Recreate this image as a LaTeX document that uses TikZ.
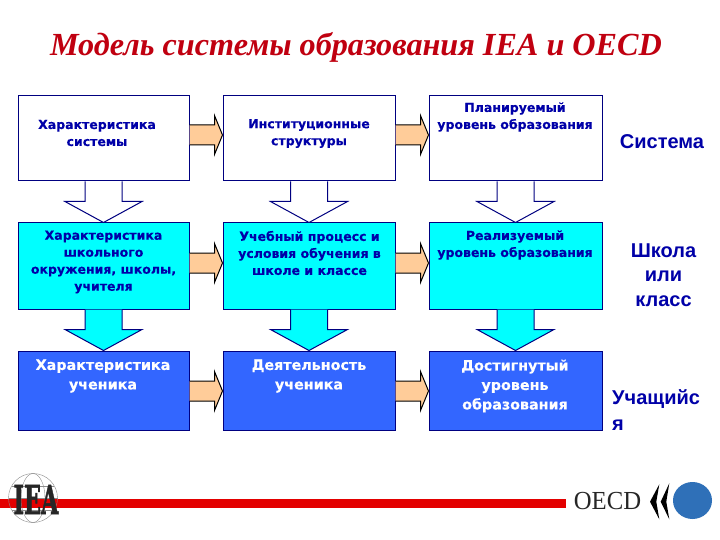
\documentclass[tikz,border=0pt]{standalone}
\usepackage{fontspec}
\setmainfont[FakeBold=0.25]{DejaVu Sans}
\newfontfamily\serifface{Liberation Serif}
\newfontfamily\armface{Liberation Sans}
\newfontfamily\heavyface[FakeBold=1.5]{DejaVu Serif}
\usetikzlibrary{calc}
\definecolor{navy}{HTML}{000080}
\definecolor{inktext}{HTML}{0000A8}
\definecolor{cyanbox}{HTML}{00FFFF}
\definecolor{bluebox}{HTML}{3366FF}
\definecolor{peach}{HTML}{FFCC99}
\definecolor{titlered}{HTML}{C00010}
\definecolor{barred}{HTML}{E30000}
\definecolor{oecdblue}{HTML}{2F70B8}
\tikzset{
  boxnode/.style={draw=navy,line width=1pt,inner sep=0pt,minimum width=#1},
  white box/.style={fill=white},
  cyan box/.style={fill=cyanbox},
  blue box/.style={fill=bluebox},
  small label/.style={align=center,inner sep=0pt,text=inktext,font=\bfseries\fontsize{12.5}{17}\selectfont},
  big label/.style={align=center,inner sep=0pt,text=white,font=\bfseries\fontsize{14.3}{19.5}\selectfont},
  side label/.style={align=center,inner sep=0pt,text=inktext,font=\armface\bfseries\fontsize{20}{24.5}\selectfont},
  blockarrow/.style={draw=black,line width=1pt,line join=miter,fill=#1},
  downarrow/.style={draw=navy,line width=1pt,line join=miter,fill=#1}
}
% right-pointing block arrow between two nodes, shifted by #3 from box centre
\newcommand{\hblock}[3]{%
  \filldraw[blockarrow=peach]
    ($(#1.east)+(0,#3-10)$) -- ($(#2.west)+(-8,#3-10)$) -- ($(#2.west)+(-8,#3-19.5)$)
    -- ($(#2.west)+(0,#3)$) -- ($(#2.west)+(-8,#3+19.5)$) -- ($(#2.west)+(-8,#3+10)$)
    -- ($(#1.east)+(0,#3+10)$);}
% downward block arrow between two nodes
\newcommand{\vblock}[3]{%
  \filldraw[downarrow=#3]
    ($(#1.south)+(-18.5,0)$) -- ($(#2.north)+(-18.5,-21)$) -- ($(#2.north)+(-38.5,-21)$)
    -- (#2.north) -- ($(#2.north)+(38.5,-21)$) -- ($(#2.north)+(18.5,-21)$)
    -- ($(#1.south)+(18.5,0)$);}
\begin{document}
\begin{tikzpicture}[x=1pt,y=-1pt]
\useasboundingbox (0,0) rectangle (720,540);
\fill[white] (0,0) rectangle (720,540);

\node[inner sep=0pt,text=titlered,font=\serifface\bfseries\itshape\fontsize{32.2}{36}\selectfont] (title) at (356,47) {Модель системы образования IEA и OECD};

% boxes
\node[boxnode=171pt,white box,minimum height=85pt] (a1) at (103.5,138.5) {};
\node[boxnode=172pt,white box,minimum height=85pt] (b1) at (309,138.5) {};
\node[boxnode=173pt,white box,minimum height=85pt] (c1) at (515.5,138.5) {};
\node[boxnode=171pt,cyan box,minimum height=86pt] (a2) at (103.5,266) {};
\node[boxnode=172pt,cyan box,minimum height=86pt] (b2) at (309,266) {};
\node[boxnode=173pt,cyan box,minimum height=86pt] (c2) at (515.5,266) {};
\node[boxnode=171pt,blue box,minimum height=79pt] (a3) at (103.5,390.5) {};
\node[boxnode=172pt,blue box,minimum height=79pt] (b3) at (309,390.5) {};
\node[boxnode=173pt,blue box,minimum height=79pt] (c3) at (515.5,390.5) {};

% right arrows
\hblock{a1}{b1}{-3.5}
\hblock{b1}{c1}{-3.5}
\hblock{a2}{b2}{-3}
\hblock{b2}{c2}{-3}
\hblock{a3}{b3}{0.5}
\hblock{b3}{c3}{0.5}

% down arrows
\vblock{a1}{a2}{white}
\vblock{b1}{b2}{white}
\vblock{c1}{c2}{white}
\vblock{a2}{a3}{cyanbox}
\vblock{b2}{b3}{cyanbox}
\vblock{c2}{c3}{cyanbox}

% box texts
\node[small label] (ta1) at (97,133) {Характеристика\\системы};
\node[small label] (tb1) at (309,133.5) {Институционные\\структуры};
\node[small label] (tc1) at (515,117) {Планируемый\\уровень образования};
\node[small label] (ta2) at (103.5,262) {Характеристика\\школьного\\окружения, школы,\\учителя};
\node[small label] (tb2) at (309.5,253) {Учебный процесс и\\условия обучения в\\школе и классе};
\node[small label] (tc2) at (515,245) {Реализуемый\\уровень образования};
\node[big label] (ta3) at (103,376) {Характеристика\\ученика};
\node[big label] (tb3) at (309,376) {Деятельность\\ученика};
\node[big label] (tc3) at (515,386) {Достигнутый\\уровень\\образования};

% side labels
\node[side label] (s1) at (662,142) {Система};
\node[side label] (s2) at (663.5,275) {Школа\\или\\класс};
\node[side label,align=left,anchor=west,font=\armface\bfseries\fontsize{20}{26}\selectfont] (s3) at (612,410) {Учащийс\\я};

% footer bar
\fill[barred] (0,498.5) rectangle (566,508);

% IEA logo
\begin{scope}[draw=black!45,line width=.4pt]
  \draw (33,498) circle[radius=24.5pt];
  \draw (33,498) ellipse[x radius=12pt,y radius=24.5pt];
  \draw (8.5,498) -- (57.5,498);
  \draw (12,486) -- (54,486);
  \draw (12,510) -- (54,510);
\end{scope}
\node[inner sep=0pt,text=black!85,font=\heavyface\bfseries\fontsize{40}{40}\selectfont,xscale=.56] (iea) at (36,499.5) {IEA};

% OECD logo
\node[inner sep=0pt,text=black!85,font=\serifface\fontsize{26}{26}\selectfont,xscale=.95] (oecd) at (607.5,501) {OECD};
\fill[black] (659.3,484.3) -- (650,501.7) -- (659.3,519.3) -- (656.3,501.7) -- cycle;
\fill[black] (669.3,483.3) -- (660.7,501.7) -- (669.3,519.3) -- (666.3,501.7) -- cycle;
\fill[oecdblue] (692.5,500.5) ellipse[x radius=19.5pt,y radius=18.5pt];
\end{tikzpicture}
\end{document}
